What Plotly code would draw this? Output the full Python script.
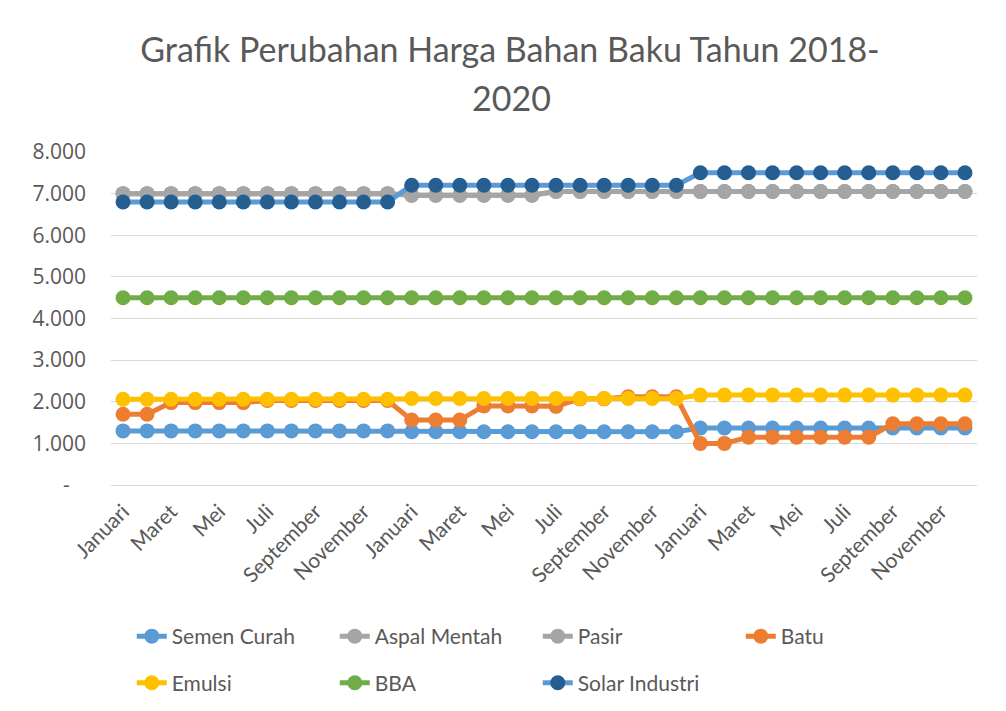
import plotly.graph_objects as go

months = ["Januari", "Februari", "Maret", "April", "Mei", "Juni", "Juli",
          "Agustus", "September", "Oktober", "November", "Desember"]
categories = [f"{m} {y}" for y in (2018, 2019, 2020) for m in months]
tick_labels = [m for y in (2018, 2019, 2020) for m in months]

semen_curah = [1300]*12 + [1280]*12 + [1370]*12
aspal_mentah = [7000]*12 + [6960]*6 + [7050]*6 + [7050]*12
pasir = [7000]*12 + [6960]*6 + [7050]*6 + [7050]*12
batu = ([1700, 1700] + [1980]*4 + [2030]*6 +
        [1560, 1560, 1560, 1900, 1900, 1900, 1890, 2070, 2070, 2120, 2120, 2120] +
        [1000, 1000] + [1150]*6 + [1470]*4)
emulsi = [2060]*12 + [2080]*12 + [2160]*12
bba = [4500]*36
solar_industri = [6800]*12 + [7200]*12 + [7500]*12

ytick_vals = [0, 1000, 2000, 3000, 4000, 5000, 6000, 7000, 8000]
ytick_text = ["-\u00a0\u00a0\u00a0", "1.000", "2.000", "3.000", "4.000",
              "5.000", "6.000", "7.000", "8.000"]

series = [
    ("Semen Curah", semen_curah, "#5B9BD5", "#5B9BD5", "legend"),
    ("Aspal Mentah", aspal_mentah, "#A5A5A5", "#A5A5A5", "legend"),
    ("Pasir", pasir, "#A5A5A5", "#A5A5A5", "legend"),
    ("Batu", batu, "#ED7D31", "#ED7D31", "legend"),
    ("Emulsi", emulsi, "#FFC000", "#FFC000", "legend2"),
    ("BBA", bba, "#70AD47", "#70AD47", "legend2"),
    ("Solar Industri", solar_industri, "#5B9BD5", "#255E91", "legend2"),
]

x_idx = list(range(len(categories)))

fig = go.Figure()
for name, vals, lc, mc, lg in series:
    fig.add_trace(go.Scatter(
        x=x_idx, y=vals, name=name, mode="lines+markers",
        line=dict(color=lc, width=5),
        marker=dict(color=mc, size=15),
        legend=lg,
        customdata=categories,
        hovertemplate="%{customdata}: %{y}<extra>" + name + "</extra>",
    ))

font_fam = "Lato, 'Open Sans', sans-serif"
leg_common = dict(orientation="h", xanchor="left", yanchor="middle",
                  entrywidth=158, entrywidthmode="pixels",
                  font=dict(family=font_fam, size=21, color="#595959"),
                  bgcolor="rgba(0,0,0,0)")
fig.update_layout(
    width=998, height=703,
    paper_bgcolor="white", plot_bgcolor="white",
    margin=dict(l=103, r=29, t=144, b=226, autoexpand=False),
    title=dict(text="Grafik Perubahan Harga Bahan Baku Tahun 2018-",
               x=0.503, xanchor="center", y=0.940, yanchor="middle",
               font=dict(family=font_fam, size=34, color="#595959")),
    font=dict(family=font_fam, color="#595959"),
    showlegend=True,
    legend=dict(x=0.024, y=-0.455, **leg_common),
    legend2=dict(x=0.024, y=-0.595, **leg_common),
)
fig.add_annotation(text="2020", xref="paper", yref="paper", x=0.463, y=1.165,
                   xanchor="center", yanchor="middle", showarrow=False,
                   font=dict(family=font_fam, size=34, color="#595959"))
fig.update_xaxes(
    range=[-0.5, 35.5], tickmode="array",
    tickvals=x_idx[::2], ticktext=tick_labels[::2],
    tickangle=-45, showgrid=False, zeroline=False,
    showline=True, linecolor="#D9D9D9", linewidth=1,
    ticklabelstandoff=5,
    tickfont=dict(family=font_fam, size=21, color="#595959"),
)
fig.update_yaxes(
    range=[0, 8000], tickmode="array", tickvals=ytick_vals, ticktext=ytick_text,
    showgrid=True, gridcolor="#D9D9D9", gridwidth=1, zeroline=False,
    showline=False, ticks="", ticklabelstandoff=24,
    tickfont=dict(family="'Open Sans', sans-serif", size=21, color="#595959"),
)

fig.write_html("out.html")
